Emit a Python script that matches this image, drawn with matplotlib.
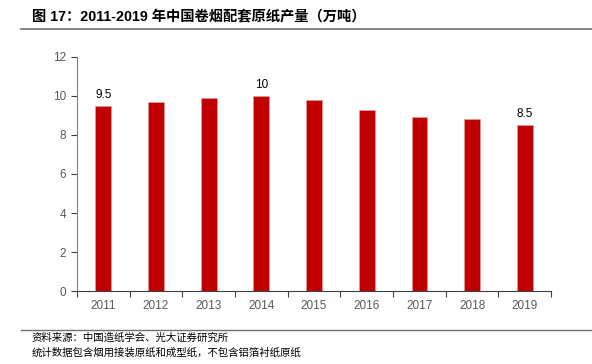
import matplotlib.pyplot as plt
from matplotlib.lines import Line2D

plt.rcParams['font.family'] = ['Liberation Sans', 'Noto Sans CJK SC', 'DejaVu Sans']

# data
years = ["2011", "2012", "2013", "2014", "2015", "2016", "2017", "2018", "2019"]
output = [9.5, 9.7, 9.9, 10.0, 9.8, 9.3, 8.9, 8.8, 8.5]
labelled = {"2011": "9.5", "2014": "10", "2019": "8.5"}

title = "图 17：2011-2019 年中国卷烟配套原纸产量（万吨）"
source = "资料来源：中国造纸学会、光大证券研究所"
note = "统计数据包含烟用接装原纸和成型纸，不包含铝箔衬纸原纸"

fig = plt.figure(figsize=(5.92, 3.64), dpi=100)
ax = fig.add_axes([0.130, 0.200, 0.801, 0.644])

x = list(range(len(years)))
ax.bar(x, output, width=0.30, color="#C00000", edgecolor="#E8A0A0", linewidth=0.4)
for i, y in enumerate(years):
    if y in labelled:
        ax.text(i, output[i] + 0.25, labelled[y], ha="center", va="bottom",
                fontsize=8.5, color="black")

ax.set_xlim(-0.5, len(years) - 0.5)
ax.set_ylim(0, 12)
ax.set_yticks(range(0, 13, 2))
ax.set_xticks(x)
ax.set_xticklabels(years)
ax.set_xticks([i - 0.5 for i in range(len(years) + 1)], minor=True)
ax.tick_params(axis="x", which="major", length=0, pad=6, labelsize=8.5, labelcolor="#595959")
ax.tick_params(axis="x", which="minor", length=4, width=0.8, color="#404040", direction="out")
ax.tick_params(axis="y", length=4, width=0.8, color="#404040", labelsize=8.5,
               labelcolor="#595959", pad=4)

for s in ["top", "right"]:
    ax.spines[s].set_visible(False)
ax.spines["left"].set_color("#808080")
ax.spines["left"].set_linewidth(0.8)
ax.spines["bottom"].set_color("#404040")
ax.spines["bottom"].set_linewidth(0.8)

# header / footer
fig.text(0.054, 0.951, title, fontsize=10.3, fontweight="bold", va="center", ha="left")
fig.add_artist(Line2D([0.035, 1.0], [0.919, 0.919], color="#707070", linewidth=1.2))
fig.add_artist(Line2D([0.035, 1.0], [0.093, 0.093], color="#707070", linewidth=1.0))
fig.text(0.053, 0.071, source, fontsize=7.5, va="center", ha="left")
fig.text(0.053, 0.032, note, fontsize=7.5, va="center", ha="left")

fig.savefig("out.png", dpi=100)
